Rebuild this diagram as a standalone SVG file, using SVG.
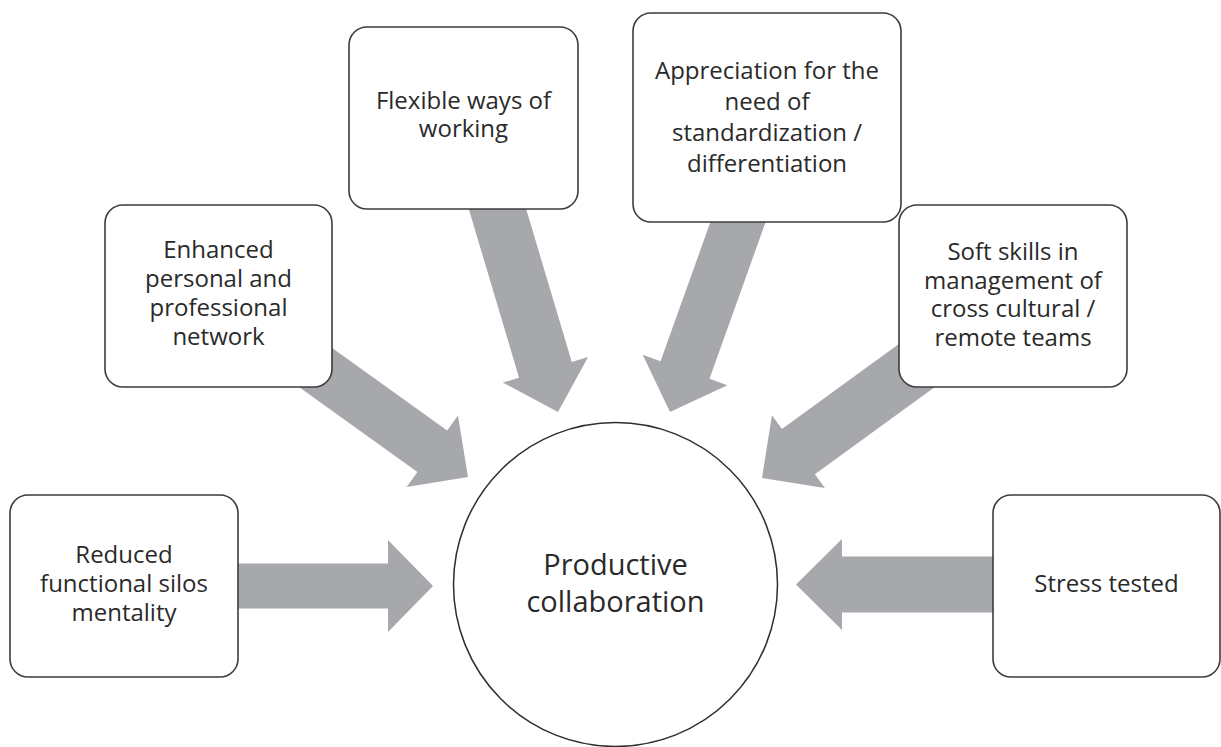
<svg xmlns="http://www.w3.org/2000/svg" width="1221" height="747" viewBox="0 0 1221 747">
<style>
.box{fill:#fff;stroke:#3c3c3c;stroke-width:1.6}
.hub{fill:#fff;stroke:#2e2e2e;stroke-width:1.5}
.arrow{fill:#a6a8ab}
text{font-family:"Open Sans","Liberation Sans",sans-serif;fill:#2a2a2a;text-anchor:middle}
.t{font-size:24px}
.c{font-size:29px}
</style>
<rect width="1221" height="747" fill="#fff"/>
<g id="connectors">
  <polygon class="arrow" transform="translate(433,586)" points="0,0 -45,-46 -45,-22.5 -205,-22.5 -205,22.5 -45,22.5 -45,46"/>
  <polygon class="arrow" transform="translate(796,584.5) rotate(180)" points="0,0 -46,-45.5 -46,-28 -205,-28 -205,28 -46,28 -46,45.5"/>
  <polygon class="arrow" transform="translate(468,477) rotate(35.7)" points="0,0 -44,-44 -44,-25.5 -210,-25.5 -210,25.5 -44,25.5 -44,44"/>
  <polygon class="arrow" transform="translate(558,412) rotate(73.4)" points="0,0 -44,-44.5 -44,-27.5 -225,-27.5 -225,27.5 -44,27.5 -44,44.5"/>
  <polygon class="arrow" transform="translate(670,412) rotate(109.7)" points="0,0 -44.6,-45 -44.6,-26 -215,-26 -215,26 -44.6,26 -44.6,45"/>
  <polygon class="arrow" transform="translate(762,478) rotate(144)" points="0,0 -45,-45 -45,-28 -215,-28 -215,28 -45,28 -45,45"/>
</g>
<g id="hub">
  <circle class="hub" cx="615.5" cy="584.5" r="162"/>
  <text class="c" x="615.5" y="575">Productive</text>
  <text class="c" x="615.5" y="612">collaboration</text>
</g>
<g id="node-silos">
  <rect class="box" x="10" y="495" width="228" height="182" rx="18"/>
  <text class="t" x="124" y="563">Reduced</text>
  <text class="t" x="124" y="592">functional silos</text>
  <text class="t" x="124" y="621">mentality</text>
</g>
<g id="node-network">
  <rect class="box" x="105" y="205" width="227" height="182" rx="18"/>
  <text class="t" x="218.5" y="258">Enhanced</text>
  <text class="t" x="218.5" y="287">personal and</text>
  <text class="t" x="218.5" y="316">professional</text>
  <text class="t" x="218.5" y="345">network</text>
</g>
<g id="node-flexible">
  <rect class="box" x="349" y="27" width="229" height="182" rx="18"/>
  <text class="t" x="463.5" y="109">Flexible ways of</text>
  <text class="t" x="463.5" y="137">working</text>
</g>
<g id="node-standardization">
  <rect class="box" x="633" y="13" width="268" height="209" rx="18"/>
  <text class="t" x="767" y="79">Appreciation for the</text>
  <text class="t" x="767" y="110">need of</text>
  <text class="t" x="767" y="141">standardization /</text>
  <text class="t" x="767" y="172">differentiation</text>
</g>
<g id="node-softskills">
  <rect class="box" x="899" y="205" width="228" height="182" rx="18"/>
  <text class="t" x="1013" y="260">Soft skills in</text>
  <text class="t" x="1013" y="289">management of</text>
  <text class="t" x="1013" y="317">cross cultural /</text>
  <text class="t" x="1013" y="346">remote teams</text>
</g>
<g id="node-stress">
  <rect class="box" x="993" y="495" width="227" height="182" rx="18"/>
  <text class="t" x="1106.5" y="592">Stress tested</text>
</g>
</svg>
